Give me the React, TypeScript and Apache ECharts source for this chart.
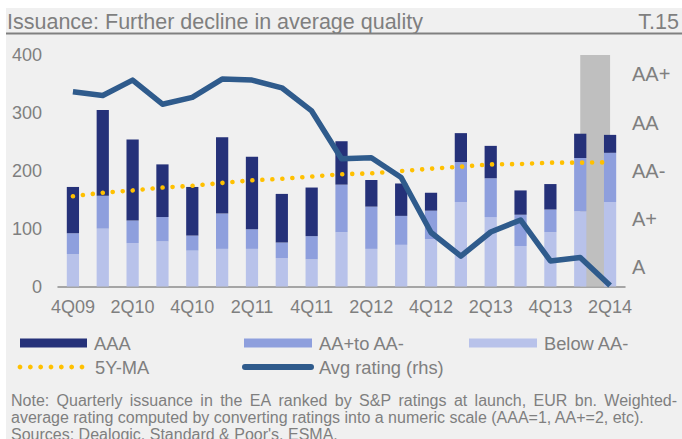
import React, { useEffect, useRef } from 'react';
import * as echarts from 'echarts';

const categories = ['4Q09','1Q10','2Q10','3Q10','4Q10','1Q11','2Q11','3Q11','4Q11','1Q12','2Q12','3Q12','4Q12','1Q13','2Q13','3Q13','4Q13','1Q14','2Q14'];
const belowAA = [56,100,75,78,62,65,65,49,47,94,65,72,82,146,120,70,94,130,146];
const aaRange = [36,57,39,42,26,61,34,27,40,82,73,50,49,69,67,54,39,92,85];
const aaa = [80,148,140,91,84,132,125,84,84,75,46,56,31,50,56,42,44,42,31];
const ma5y = [156,162,166,171,174,179,183.5,186,190,194,195.5,199.5,203.5,207,211,211.6,214,214,214.6];
const avgRating = [2.36,2.44,2.12,2.62,2.48,2.10,2.12,2.28,2.76,3.75,3.73,4.14,5.28,5.77,5.27,5.02,5.87,5.80,6.38];
const ratingTicks = [2,3,4,5,6];
const ratingLabels = ['AA+','AA','AA-','A+','A'];
const shadedFrom = '1Q14';
const shadedTo = '2Q14';

const title = 'Issuance: Further decline in average quality';
const tag = 'T.15';
const noteLines = [
  'Note: Quarterly issuance in the EA ranked by S&P ratings at launch, EUR bn. Weighted-',
  'average rating computed by converting ratings into a numeric scale (AAA=1, AA+=2, etc).',
  "Sources: Dealogic, Standard & Poor's, ESMA.",
];

const FONT = '"Liberation Sans", Arial, Helvetica, sans-serif';
const TEXT = '#7F7F7F';
const C_AAA = '#253179';
const C_AA = '#8E9FDD';
const C_BELOW = '#B8C2EA';
const C_MA = '#FFC000';
const C_AVG = '#2F5B8C';

function measure(text: string, size: number): number {
  const c = document.createElement('canvas').getContext('2d');
  if (!c) return text.length * size * 0.5;
  c.font = `${size}px ${FONT}`;
  return c.measureText(text).width;
}

export default function App() {
  const ref = useRef<HTMLDivElement>(null);
  useEffect(() => {
    if (!ref.current) return;
    const chart = echarts.init(ref.current, null, { renderer: 'svg' });

    const noteSize = 16;
    const noteX = 11;
    const noteRight = 677;
    const noteYs = [400, 417, 434];
    const noteEls: any[] = [];
    {
      const words = noteLines[0].split(' ');
      const widths = words.map((w) => measure(w, noteSize));
      const total = widths.reduce((a, b) => a + b, 0);
      const gap = (noteRight - noteX - total) / (words.length - 1);
      let x = noteX;
      words.forEach((w, i) => {
        noteEls.push({ type: 'text', x, y: noteYs[0], style: { text: w, font: `${noteSize}px ${FONT}`, fill: TEXT, verticalAlign: 'middle' } });
        x += widths[i] + gap;
      });
    }
    noteEls.push({ type: 'text', x: noteX, y: noteYs[1], style: { text: noteLines[1], font: `${noteSize}px ${FONT}`, fill: TEXT, verticalAlign: 'middle' } });
    noteEls.push({ type: 'text', x: noteX, y: noteYs[2], style: { text: noteLines[2], font: `${noteSize}px ${FONT}`, fill: TEXT, verticalAlign: 'middle' } });

    const legFont = `18.3px ${FONT}`;
    const legendEls: any[] = [
      { type: 'rect', shape: { x: 20, y: 338.5, width: 67, height: 9 }, style: { fill: C_AAA } },
      { type: 'text', x: 94, y: 343, style: { text: 'AAA', font: legFont, fill: TEXT, verticalAlign: 'middle' } },
      { type: 'rect', shape: { x: 244, y: 338.5, width: 68, height: 9 }, style: { fill: C_AA } },
      { type: 'text', x: 319, y: 343, style: { text: 'AA+to AA-', font: legFont, fill: TEXT, verticalAlign: 'middle' } },
      { type: 'rect', shape: { x: 469, y: 338.5, width: 68, height: 9 }, style: { fill: C_BELOW } },
      { type: 'text', x: 544, y: 343, style: { text: 'Below AA-', font: legFont, fill: TEXT, verticalAlign: 'middle' } },
      { type: 'text', x: 95, y: 367, style: { text: '5Y-MA', font: legFont, fill: TEXT, verticalAlign: 'middle' } },
      { type: 'line', shape: { x1: 245, y1: 367, x2: 311, y2: 367 }, style: { stroke: C_AVG, lineWidth: 6, lineCap: 'round' } },
      { type: 'text', x: 319, y: 367, style: { text: 'Avg rating (rhs)', font: legFont, fill: TEXT, verticalAlign: 'middle' } },
    ];
    for (let i = 0; i < 7; i++) {
      legendEls.push({ type: 'circle', shape: { cx: 20 + i * 10.33, cy: 367, r: 2.4 }, style: { fill: C_MA } });
    }

    const option: any = {
      animation: false,
      textStyle: { fontFamily: FONT },
      grid: { left: 58, right: 57, top: 55, bottom: 152.5, containLabel: false },
      xAxis: {
        type: 'category',
        data: categories,
        axisLine: { lineStyle: { color: '#8C8C8C', width: 1.5 } },
        axisTick: { show: false },
        axisLabel: { interval: 1, color: TEXT, fontSize: 18, margin: 11, fontFamily: FONT },
      },
      yAxis: [
        {
          type: 'value', min: 0, max: 400, interval: 100,
          axisLine: { show: false }, axisTick: { show: false }, splitLine: { show: false },
          axisLabel: { color: TEXT, fontSize: 18, margin: 16, fontFamily: FONT },
        },
        {
          type: 'value', min: 1.6, max: 6.4, inverse: true,
          axisLine: { show: false }, axisTick: { show: false }, splitLine: { show: false },
          axisLabel: {
            color: TEXT, fontSize: 20, margin: 7, fontFamily: FONT, align: 'left',
            customValues: ratingTicks,
            formatter: (v: number) => {
              const i = ratingTicks.indexOf(Math.round(v));
              return i >= 0 ? ratingLabels[i] : '';
            },
          },
        },
      ],
      series: [
        { name: 'Below AA-', type: 'bar', stack: 'iss', data: belowAA, barWidth: '41%', itemStyle: { color: C_BELOW } },
        { name: 'AA+to AA-', type: 'bar', stack: 'iss', data: aaRange, barWidth: '41%', itemStyle: { color: C_AA } },
        { name: 'AAA', type: 'bar', stack: 'iss', data: aaa, barWidth: '41%', itemStyle: { color: C_AAA } },
        {
          name: '5Y-MA', type: 'line', data: ma5y, symbol: 'none', z: 5,
          lineStyle: { color: C_MA, width: 4.6, type: [0.01, 10], cap: 'round' },
          markArea: {
            silent: true,
            z: 1,
            itemStyle: { color: '#BFBFBF' },
            data: [[{ xAxis: shadedFrom }, { xAxis: shadedTo }]],
          },
        },
        {
          name: 'Avg rating (rhs)', type: 'line', yAxisIndex: 1, data: avgRating, symbol: 'none', z: 6,
          lineStyle: { color: C_AVG, width: 5.5, join: 'round' },
        },
      ],
      graphic: {
        elements: [
          { type: 'rect', z: -10, shape: { x: 6, y: 8, width: 676, height: 431 }, style: { fill: '#F0F0F0' } },
          { type: 'text', x: 7, y: 22, style: { text: title, font: `21.5px ${FONT}`, fill: TEXT, verticalAlign: 'middle' } },
          { type: 'text', x: 679, y: 22, style: { text: tag, font: `21.5px ${FONT}`, fill: TEXT, verticalAlign: 'middle', align: 'right' } },
          { type: 'line', shape: { x1: 6, y1: 33.5, x2: 682, y2: 33.5 }, style: { stroke: '#808080', lineWidth: 2 } },
          ...legendEls,
          ...noteEls,
        ],
      },
    };
    chart.setOption(option);
    return () => chart.dispose();
  }, []);
  return <div ref={ref} style={{ position: 'fixed', left: 0, top: 0, width: 682, height: 439, background: '#fff' }} />;
}
